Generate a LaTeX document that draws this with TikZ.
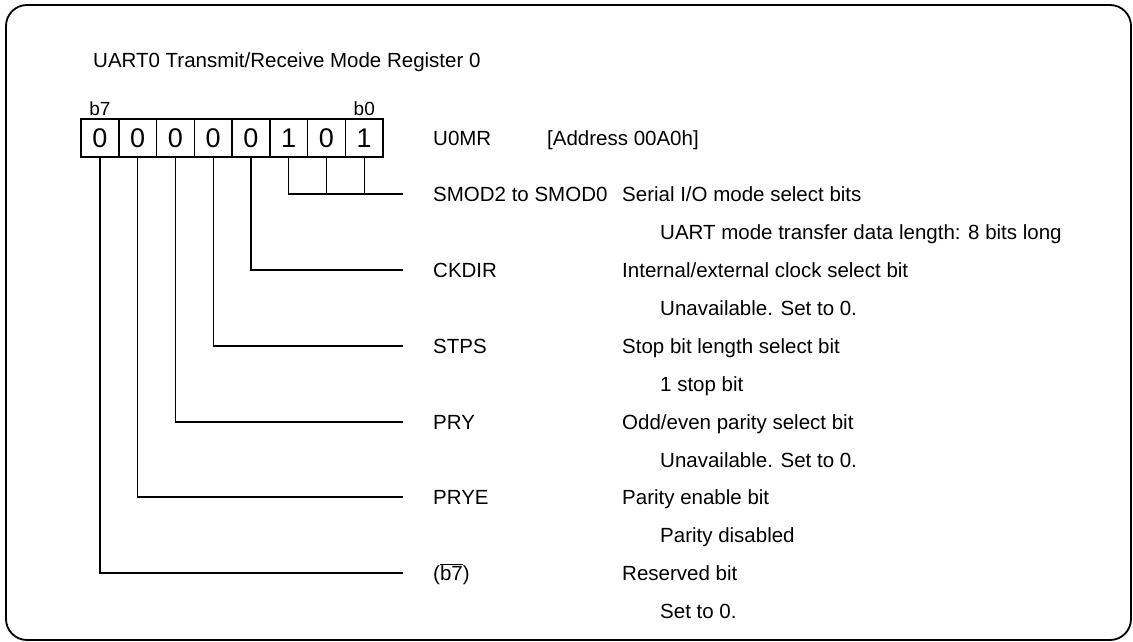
\documentclass[tikz,border=0pt]{standalone}
\usepackage{fontspec}
\setmainfont{Liberation Sans}
\usetikzlibrary{positioning}

\begin{document}
\begin{tikzpicture}[
x=1pt, y=-1pt,
bit/.style={draw, line width=1.5pt, minimum width=37.75pt, minimum height=38pt, inner sep=0pt, font=\fontsize{27}{30}\selectfont},
bitno/.style={inner sep=0pt, font=\fontsize{19}{22}\selectfont},
txt/.style={anchor=west, inner sep=0pt, text height=14.7pt, text depth=0pt, font=\fontsize{20.5}{24}\selectfont},
wire/.style={line width=1.3pt}
]
\useasboundingbox (0,0) rectangle (1133,642);
\draw[line width=1.8pt, rounded corners=21pt] (6,5) rectangle (1131,640);

\node[txt] (title) at (93,60) {UART0 Transmit/Receive Mode Register 0};

% register cells, b7 on the left
\foreach \v [count=\i from 0] in {0,0,0,0,0,1,0,1} {
  \pgfmathtruncatemacro{\b}{7-\i}
  \node[bit] (c\b) at (100+37.75*\i,138) {\v};
}
\node[bitno, above=2pt of c7] (b7) {b7};
\node[bitno, above=2pt of c0] (b0) {b0};

\node[txt] (reg) at (433,138) {U0MR};
\node[txt] (addr) at (547,138) {[Address 00A0h]};

% bit fields
\node[txt] (nsmod) at (433,194) {SMOD2 to SMOD0};
\node[txt] (dsmod) at (622,194) {Serial I/O mode select bits};
\node[txt] (ssmod) at (660,232) {UART mode transfer data length: 8 bits long};

\node[txt] (nckdir) at (433,270) {CKDIR};
\node[txt] (dckdir) at (622,270) {Internal/external clock select bit};
\node[txt] (sckdir) at (660,308) {Unavailable. Set to 0.};

\node[txt] (nstps) at (433,346) {STPS};
\node[txt] (dstps) at (622,346) {Stop bit length select bit};
\node[txt] (sstps) at (660,384) {1 stop bit};

\node[txt] (npry) at (433,422) {PRY};
\node[txt] (dpry) at (622,422) {Odd/even parity select bit};
\node[txt] (spry) at (660,460) {Unavailable. Set to 0.};

\node[txt] (nprye) at (433,497) {PRYE};
\node[txt] (dprye) at (622,497) {Parity enable bit};
\node[txt] (sprye) at (660,535) {Parity disabled};

\node[txt] (nres) at (433,573) {($\overline{\mbox{b7}}$)};
\node[txt] (dres) at (622,573) {Reserved bit};
\node[txt] (sres) at (660,611) {Set to 0.};

% connectors
\draw[wire] (c2.south) |- ([xshift=-30pt]nsmod.west);
\draw[wire] (c1.south) -- (c1.south |- nsmod.west);
\draw[wire] (c0.south) -- (c0.south |- nsmod.west);
\draw[wire] (c3.south) |- ([xshift=-30pt]nckdir.west);
\draw[wire] (c4.south) |- ([xshift=-30pt]nstps.west);
\draw[wire] (c5.south) |- ([xshift=-30pt]npry.west);
\draw[wire] (c6.south) |- ([xshift=-30pt]nprye.west);
\draw[wire] (c7.south) |- ([xshift=-30pt]nres.west);
\end{tikzpicture}
\end{document}
